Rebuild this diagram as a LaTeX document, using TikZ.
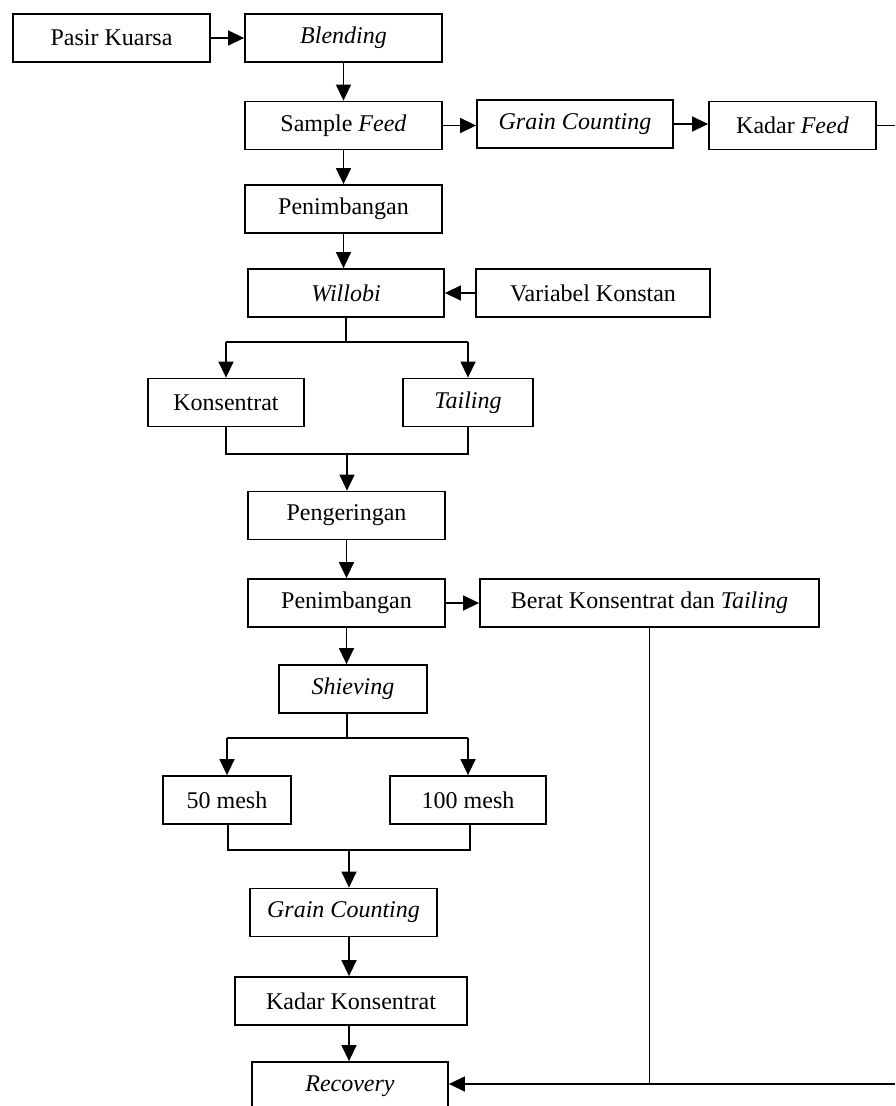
\documentclass[tikz,border=0pt]{standalone}
\usepackage{fontspec}
\setmainfont{Liberation Serif}
\usetikzlibrary{arrows.meta,calc}
\tikzset{
  box/.style={draw, line width=1.8pt, minimum height=48pt, inner sep=0pt,
    font=\fontsize{24}{28}\selectfont},
  conn/.style={line width=1.3pt},
  arr/.style={line width=1.4pt, -{Triangle[length=16pt,width=15pt]}}
}
\begin{document}
\begin{tikzpicture}[x=1pt,y=-1pt]
\useasboundingbox (0,0) rectangle (895,1106);
% nodes
\node[box, minimum width=197pt] (pasir) at (111.5,38) {Pasir Kuarsa};
\node[box, minimum width=197pt] (blend) at (343.5,38) {\textit{Blending}};
\node[box, minimum width=197pt] (sfeed) at (343.5,125.5) {Sample \textit{Feed}};
\node[box, minimum width=196pt] (gc1) at (575,124) {\textit{Grain Counting}};
\node[box, minimum width=167pt] (kfeed) at (792.5,125.5) {Kadar \textit{Feed}};
\node[box, minimum width=197pt] (pen1) at (343.5,209) {Penimbangan};
\node[box, minimum width=196pt] (will) at (346,293) {\textit{Willobi}};
\node[box, minimum width=234pt] (vk) at (593,293) {Variabel Konstan};
\node[box, minimum width=156pt] (kons) at (226,402.5) {Konsentrat};
\node[box, minimum width=130pt] (tail) at (468,402.5) {\textit{Tailing}};
\node[box, minimum width=197pt] (peng) at (346.5,515.5) {Pengeringan};
\node[box, minimum width=197pt] (pen2) at (346.5,603) {Penimbangan};
\node[box, minimum width=339pt] (berat) at (649.5,603) {Berat Konsentrat dan \textit{Tailing}};
\node[box, minimum width=148pt] (shiev) at (353,689) {\textit{Shieving}};
\node[box, minimum width=128pt] (m50) at (227,800) {50 mesh};
\node[box, minimum width=156pt] (m100) at (468,800) {100 mesh};
\node[box, minimum width=187pt] (gc2) at (343.5,912.5) {\textit{Grain Counting}};
\node[box, minimum width=232pt] (kk) at (351,1001) {Kadar Konsentrat};
\node[box, minimum width=196pt] (rec) at (350,1086) {\textit{Recovery}};
% helper coordinates
\coordinate (kfout) at (895,125.5);
\coordinate (wsplit) at (346,342);
\coordinate (kjoin) at (347,454);
\coordinate (ssplit) at (347,738);
\coordinate (mjoin) at (349,850);
\coordinate (rin) at (895,1084);
% connectors top
\draw[arr] (pasir.east) -- (blend.west);
\draw[arr] (blend.south) -- (sfeed.north);
\draw[arr] (sfeed.east) -- (sfeed.east -| gc1.west);
\draw[arr] (gc1.east) -- (gc1.east -| kfeed.west);
\draw[conn] (kfeed.east) -- (kfout);
\draw[arr] (sfeed.south) -- (pen1.north);
\draw[arr] (pen1.south) -- (pen1.south |- will.north);
\draw[arr] (vk.west) -- (will.east);
% willobi split
\draw[conn] (will.south) -- (will.south |- wsplit);
\draw[conn] (kons.north |- wsplit) -- (tail.north |- wsplit);
\draw[arr] (kons.north |- wsplit) -- (kons.north);
\draw[arr] (tail.north |- wsplit) -- (tail.north);
% join
\draw[conn] (kons.south) -- (kons.south |- kjoin) -- (tail.south |- kjoin) -- (tail.south);
\draw[arr] (kjoin) -- (kjoin |- peng.north);
\draw[arr] (peng.south) -- (pen2.north);
\draw[arr] (pen2.east) -- (berat.west);
\draw[arr] (pen2.south) -- (pen2.south |- shiev.north);
% shieving split
\draw[conn] (ssplit |- shiev.south) -- (ssplit);
\draw[conn] (m50.north |- ssplit) -- (m100.north |- ssplit);
\draw[arr] (m50.north |- ssplit) -- (m50.north);
\draw[arr] (m100.north |- ssplit) -- (m100.north);
% mesh join
\draw[conn] ([xshift=1pt]m50.south) -- ([xshift=1pt]m50.south |- mjoin) -- ([xshift=2pt]m100.south |- mjoin) -- ([xshift=2pt]m100.south);
\draw[arr] (mjoin) -- (mjoin |- gc2.north);
\draw[arr] (mjoin |- gc2.south) -- (mjoin |- kk.north);
\draw[arr] (mjoin |- kk.south) -- (mjoin |- rec.north);
% recovery feed
\draw[conn] (berat.south) -- (berat.south |- rin);
\draw[arr] (rin) -- (rec.east |- rin);
\end{tikzpicture}
\end{document}
